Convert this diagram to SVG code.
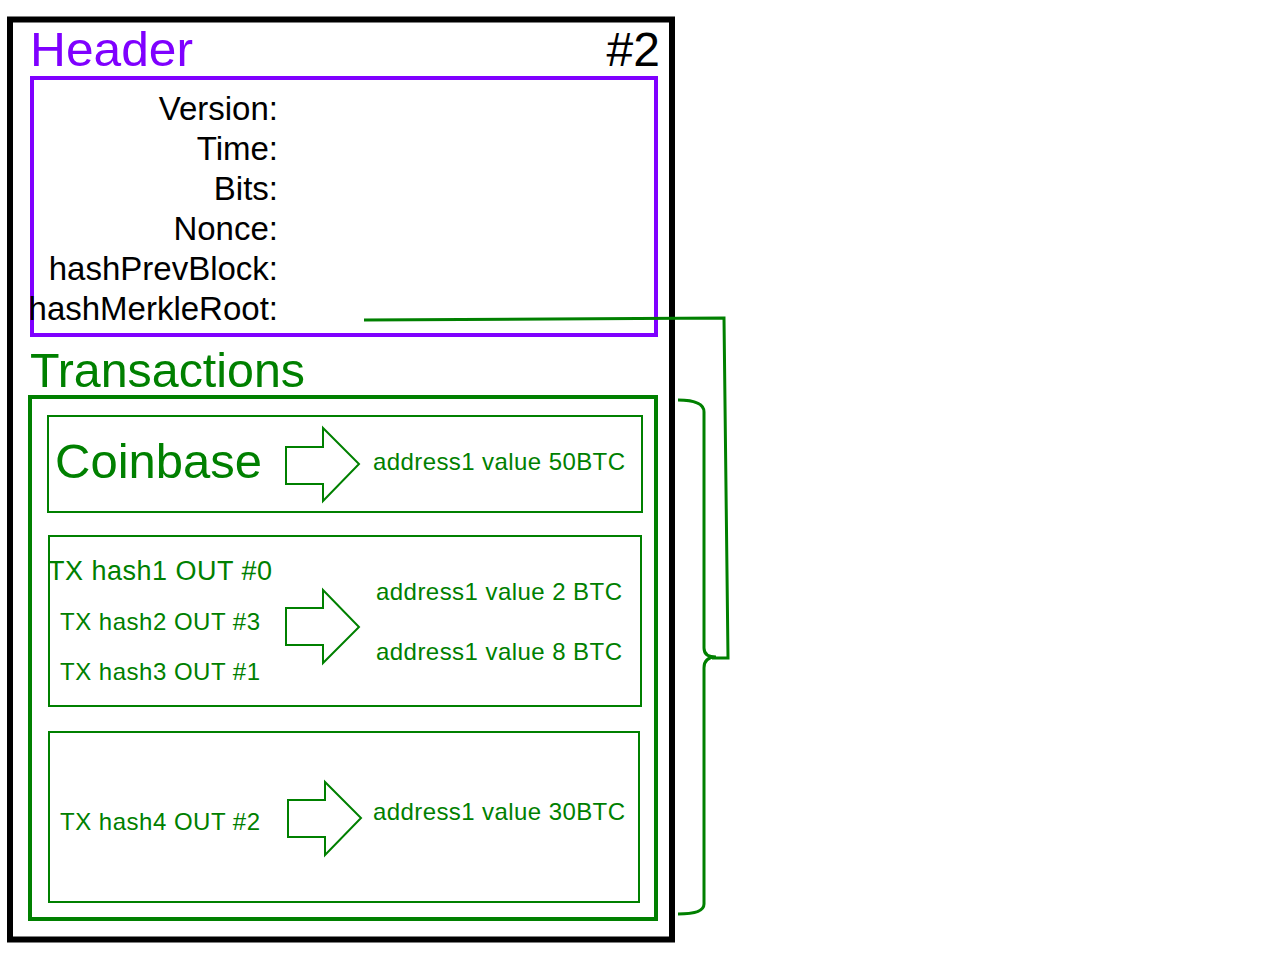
<svg xmlns="http://www.w3.org/2000/svg" width="1280" height="960" viewBox="0 0 1280 960">
<style>
text{font-family:"Liberation Sans",Arial,sans-serif}
.g{fill:#008000}
.lbl{font-size:33px;fill:#000;text-anchor:end}
.gb{fill:none;stroke:#008000;stroke-width:2}
.arrow{fill:#fff;stroke:#008000;stroke-width:2}
.s24{font-size:24px}
</style>
<rect width="1280" height="960" fill="#fff"/>
<g id="block">
<rect x="10" y="19.5" width="662" height="920" fill="none" stroke="#000" stroke-width="6"/>
<text x="660" y="66" font-size="48" text-anchor="end" fill="#000">#2</text>
</g>
<g id="header">
<text x="30" y="66" font-size="48" fill="#7f00ff" textLength="163" lengthAdjust="spacingAndGlyphs">Header</text>
<rect x="32" y="78" width="624" height="257" fill="none" stroke="#7f00ff" stroke-width="4"/>
<text class="lbl" x="278" y="120">Version:</text>
<text class="lbl" x="278" y="160">Time:</text>
<text class="lbl" x="278" y="200">Bits:</text>
<text class="lbl" x="278" y="240">Nonce:</text>
<text class="lbl" x="278" y="280">hashPrevBlock:</text>
<text class="lbl" x="278" y="320">hashMerkleRoot:</text>
</g>
<g id="transactions">
<text class="g" x="30" y="387" font-size="48" textLength="275" lengthAdjust="spacingAndGlyphs">Transactions</text>
<rect x="30" y="397" width="626" height="522" fill="none" stroke="#008000" stroke-width="4"/>
</g>
<g id="tx-coinbase">
<rect class="gb" x="48" y="416" width="594" height="96"/>
<text class="g" x="55" y="478" font-size="48" textLength="207" lengthAdjust="spacingAndGlyphs">Coinbase</text>
<polygon class="arrow" points="286,447 323,447 323,428 359,464 323,501 323,484 286,484"/>
<text class="g s24" x="373" y="470" textLength="252">address1 value 50BTC</text>
</g>
<g id="tx-2">
<rect class="gb" x="49" y="536" width="592" height="170"/>
<text class="g" x="48" y="580" font-size="27" textLength="224">TX hash1 OUT #0</text>
<text class="g s24" x="60" y="630" textLength="200">TX hash2 OUT #3</text>
<text class="g s24" x="60" y="680" textLength="200">TX hash3 OUT #1</text>
<polygon class="arrow" points="286,608 323,608 323,590 359,627 323,663 323,645 286,645"/>
<text class="g s24" x="376" y="600" textLength="246">address1 value 2 BTC</text>
<text class="g s24" x="376" y="660" textLength="246">address1 value 8 BTC</text>
</g>
<g id="tx-3">
<rect class="gb" x="49" y="732" width="590" height="170"/>
<text class="g s24" x="60" y="830" textLength="200">TX hash4 OUT #2</text>
<polygon class="arrow" points="288,800 325,800 325,782 361,818 325,855 325,837 288,837"/>
<text class="g s24" x="373" y="820" textLength="252">address1 value 30BTC</text>
</g>
<g id="connectors" fill="none" stroke="#008000" stroke-width="3">
<path d="M678,400 Q704,400 704,412 L704,648 Q704,657 716,657 Q704,657 704,668 L704,904 Q704,914 678,914"/>
<polyline points="364,320 724,318 728,658 712,658"/>
</g>
</svg>
